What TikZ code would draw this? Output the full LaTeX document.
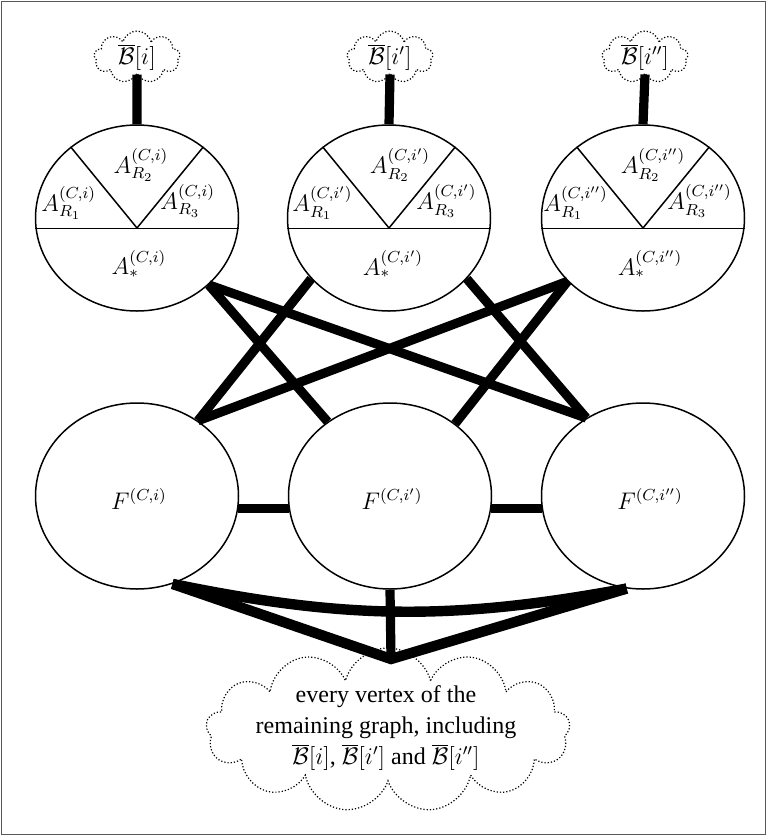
\documentclass[tikz,border=0pt]{standalone}
\usepackage{fontspec}
\setmainfont{Liberation Serif}
\usetikzlibrary{shapes.geometric,shapes.symbols,calc}
\begin{document}
\begin{tikzpicture}[x=0.5pt,y=-0.5pt,
  bubble/.style={draw, ellipse, line width=0.75pt, minimum width=101.5pt, minimum height=93pt, inner sep=0pt, fill=white},
  thickedge/.style={line width=4.6pt},
  bottomedge/.style={line width=5.2pt},
  divline/.style={line width=0.75pt},
  smallcloud/.style={cloud, draw, densely dotted, line width=0.6pt, cloud puffs=9, cloud ignores aspect, minimum width=43pt, minimum height=26pt, inner sep=0pt},
  bigcloud/.style={cloud, draw, densely dotted, line width=0.6pt, cloud puffs=13, cloud ignores aspect, minimum width=182pt, minimum height=82pt, inner sep=0pt},
  lbl/.style={font=\fontsize{11.5}{13}\selectfont, inner sep=0pt},
  cloudtext/.style={font=\fontsize{12}{15.5}\selectfont, inner sep=0pt, align=center}
]
\useasboundingbox (0,0) rectangle (767,836);
\draw[black!65, line width=0.6pt] (1.5,1.5) rectangle (765.5,834.5);

% top ellipses
\node[bubble] (A1) at (137,218) {};
\node[bubble] (A2) at (389,218) {};
\node[bubble] (A3) at (643,218) {};
% bottom ellipses
\node[bubble] (F1) at (137,496) {};
\node[bubble] (F2) at (390,496) {};
\node[bubble] (F3) at (643,496) {};

% internal divisions
\foreach \n in {A1,A2,A3}{
  \coordinate (\n v) at ($(\n.center)+(0,10)$);
  \draw[divline] (\n.186) -- (\n.-6);
  \draw[divline] (\n.133) -- (\n v) -- (\n.47);
}

% labels
\node[lbl] (A1b) at ($(A1)+(4,-53)$) {$A^{(C,i)}_{R_2}$};
\node[lbl, anchor=west] (A1a) at ($(A1)+(-96,-15)$) {$A^{(C,i)}_{R_1}$};
\node[lbl, anchor=west] (A1c) at ($(A1)+(23,-17)$) {$A^{(C,i)}_{R_3}$};
\node[lbl] (A1s) at ($(A1)+(2,46)$) {$A^{(C,i)}_{*}$};

\node[lbl] (A2b) at ($(A2)+(11,-53)$) {$A^{(C,i')}_{R_2}$};
\node[lbl, anchor=west] (A2a) at ($(A2)+(-97,-15)$) {$A^{(C,i')}_{R_1}$};
\node[lbl, anchor=west] (A2c) at ($(A2)+(27,-17)$) {$A^{(C,i')}_{R_3}$};
\node[lbl] (A2s) at ($(A2)+(4,46)$) {$A^{(C,i')}_{*}$};

\node[lbl] (A3b) at ($(A3)+(10,-53)$) {$A^{(C,i'')}_{R_2}$};
\node[lbl, anchor=west] (A3a) at ($(A3)+(-100,-15)$) {$A^{(C,i'')}_{R_1}$};
\node[lbl, anchor=west] (A3c) at ($(A3)+(24,-17)$) {$A^{(C,i'')}_{R_3}$};
\node[lbl] (A3s) at ($(A3)+(7,46)$) {$A^{(C,i'')}_{*}$};

\node[lbl] (F1l) at ($(F1)+(2,3)$) {$F^{(C,i)}$};
\node[lbl] (F2l) at ($(F2)+(2,3)$) {$F^{(C,i')}$};
\node[lbl] (F3l) at ($(F3)+(7,3)$) {$F^{(C,i'')}$};

% top clouds
\node[smallcloud] (B1) at (137,57) {};
\node[smallcloud] (B2) at (390,57) {};
\node[smallcloud] (B3) at (645,57) {};
\node[lbl] (B1t) at (B1) {$\overline{\mathcal{B}}[i]$};
\node[lbl] (B2t) at (B2) {$\overline{\mathcal{B}}[i']$};
\node[lbl] (B3t) at (B3) {$\overline{\mathcal{B}}[i'']$};
\draw[thickedge] (B1.south) -- (A1.north);
\draw[thickedge] (B2.south) -- (A2.north);
\draw[thickedge] (B3.south) -- (A3.north);

% crossing connectors
\draw[thickedge] (A1.-43) -- (F2.130);
\draw[thickedge] (A1.-43) -- (F3.126);
\draw[thickedge] (A2.-142) -- (F1.51);
\draw[thickedge] (A2.-38) -- (F3.126);
\draw[thickedge] (A3.-140) -- (F1.51);
\draw[thickedge] (A3.-140) -- (F2.48);

% horizontal connectors
\draw[thickedge] (F1.-7) -- (F2.-173);
\draw[thickedge] (F2.-7) -- (F3.-173);

% bottom cloud
\node[bigcloud] (C) at (388,730) {};
\node[cloudtext] (Ct) at (386,728) {every vertex of the\\ remaining graph, including\\ $\overline{\mathcal{B}}[i]$, $\overline{\mathcal{B}}[i']$ and $\overline{\mathcal{B}}[i'']$};
\coordinate (vp) at (391,659);

\draw[bottomedge] (F1.-68) to[bend right=11] (F3.-100);
\draw[bottomedge] (F1.-68) -- (vp) -- (F3.-100);
\draw[thickedge] (F2.south) -- (vp);
\end{tikzpicture}
\end{document}
